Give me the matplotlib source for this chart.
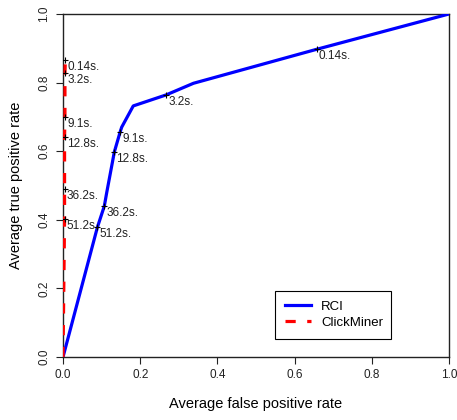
import matplotlib.pyplot as plt

plt.rcParams['font.family'] = ['Liberation Sans', 'DejaVu Sans']

# RCI curve (average FPR, average TPR), labelled points get a time tag
rci_fpr = [0.0, 0.089, 0.107, 0.113, 0.133, 0.148, 0.152, 0.182, 0.267, 0.338, 0.657, 1.0]
rci_tpr = [0.0, 0.378, 0.440, 0.478, 0.598, 0.656, 0.670, 0.732, 0.764, 0.798, 0.897, 1.0]
rci_lab = ['', '51.2s.', '36.2s.', '', '12.8s.', '9.1s.', '', '', '3.2s.', '', '0.14s.', '']

# ClickMiner curve
cm_fpr = [0.0, 0.004, 0.004, 0.004, 0.005, 0.005, 0.006]
cm_tpr = [0.0, 0.402, 0.489, 0.642, 0.700, 0.827, 0.866]
cm_lab = ['', '51.2s.', '36.2s.', '12.8s.', '9.1s.', '3.2s.', '0.14s.']

fig = plt.figure(figsize=(4.57, 4.2), dpi=100)
ax = fig.add_axes([0.1379, 0.15, 0.8446, 0.8167])

ax.plot(rci_fpr, rci_tpr, color='#0000ff', lw=2.3, label='RCI', zorder=3)
ax.plot(cm_fpr, cm_tpr, color='#ff0000', lw=2.3, linestyle=(0, (3.2, 3.6)), label='ClickMiner', zorder=3)

# time tags with small "+" markers
for xs, ys, labs in [(rci_fpr, rci_tpr, rci_lab), (cm_fpr, cm_tpr, cm_lab)]:
    for x, y, t in zip(xs, ys, labs):
        if t == '':
            continue
        ax.plot(x, y, marker='+', color='black', ms=5, mew=0.8, zorder=4)
        ax.annotate(t, (x, y), xytext=(1.5, -5), textcoords='offset points',
                    ha='left', va='center', fontsize=8.5, color='#222222', zorder=5)

ax.set_xlim(0, 1)
ax.set_ylim(0, 1)
ax.set_xticks([0, 0.2, 0.4, 0.6, 0.8, 1.0])
ax.set_yticks([0, 0.2, 0.4, 0.6, 0.8, 1.0])
ax.set_xticklabels(['0.0', '0.2', '0.4', '0.6', '0.8', '1.0'])
ax.set_yticklabels(['0.0', '0.2', '0.4', '0.6', '0.8', '1.0'], rotation=90, va='center')
ax.tick_params(direction='out', length=5, width=0.8, labelsize=8.5, pad=4, colors='#222222')
for s in ax.spines.values():
    s.set_linewidth(1.0)
    s.set_color('#222222')

ax.set_xlabel('Average false positive rate', fontsize=10.5, labelpad=11)
ax.set_ylabel('Average true positive rate', fontsize=10.5, labelpad=11)

leg = ax.legend(loc='lower left', bbox_to_anchor=(0.549, 0.053, 0.30, 0.142), mode='expand',
                fancybox=False, edgecolor='black', framealpha=1, fontsize=9.5,
                handlelength=2.0, handletextpad=0.75, borderaxespad=0,
                borderpad=0.75, labelspacing=0.3)
leg.get_frame().set_linewidth(0.8)

plt.savefig('out.png', dpi=100)
